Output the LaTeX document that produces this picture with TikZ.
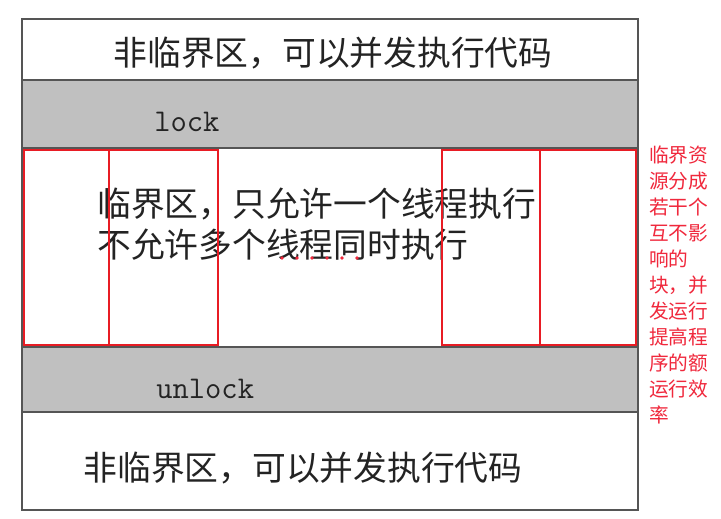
\documentclass[tikz,border=0pt]{standalone}
\usepackage{fontspec}
\newfontfamily\cjk{Noto Sans CJK SC}
\definecolor{bandgray}{RGB}{192,192,192}
\definecolor{framegray}{RGB}{85,85,85}
\definecolor{inkblack}{RGB}{35,35,35}
\definecolor{blockred}{RGB}{232,28,36}
\definecolor{notered}{RGB}{240,40,60}
\tikzset{
  band/.style={fill=bandgray},
  sepline/.style={draw=framegray,line width=1.3pt},
  frameline/.style={draw=framegray,line width=1.8pt},
  cjktext/.style={inner sep=0pt,font=\cjk\fontsize{24}{28}\selectfont,text=inkblack},
  codetext/.style={inner sep=0pt,anchor=base west,font=\fontsize{22.5}{26}\selectfont\ttfamily,text=inkblack},
  notetext/.style={inner sep=0pt,anchor=west,font=\cjk\fontsize{14}{18}\selectfont,text=notered},
  blockbox/.style={draw=blockred,line width=1.8pt},
}
\begin{document}
\begin{tikzpicture}[x=0.025cm,y=-0.025cm]
  \useasboundingbox (0,0) rectangle (721,518);
  \fill[white] (0,0) rectangle (721,518);
  % gray bands
  \fill[band] (22,80) rectangle (638,148);
  \fill[band] (22,347) rectangle (638,412);
  \draw[sepline] (22,80) -- (638,80);
  \draw[sepline] (22,148) -- (638,148);
  \draw[sepline] (22,347) -- (638,347);
  \draw[sepline] (22,412) -- (638,412);
  \draw[frameline] (22,19) rectangle (638,510);
  % texts
  \node[cjktext] (top) at (333,53) {非临界区，可以并发执行代码};
  \node[codetext] (lock) at (154,132) {lock};
  \node[cjktext,anchor=west] (crit1) at (97,204) {临界区，只允许一个线程执行};
  \node[cjktext,anchor=west] (crit2) at (97,245) {不允许多个线程同时执行};
  \foreach \x in {282,297,...,357}
    \fill[notered] (\x,258) circle (1.4pt);
  \node[codetext] (unlock) at (156,398) {unlock};
  \node[cjktext] (bottom) at (303,468) {非临界区，可以并发执行代码};
  % resource blocks
  \draw[blockbox] (24,150) rectangle (109,345);
  \draw[blockbox] (109,150) rectangle (218,345);
  \draw[blockbox] (442,150) rectangle (540,345);
  \draw[blockbox] (540,150) rectangle (636,345);
  % note
  \foreach \t [count=\i] in {临界资,源分成,若干个,互不影,响的,块，并,发运行,提高程,序的额,运行效,率}
    \node[notetext] (note\i) at (649,{155+26*(\i-1)}) {\t};
\end{tikzpicture}
\end{document}
